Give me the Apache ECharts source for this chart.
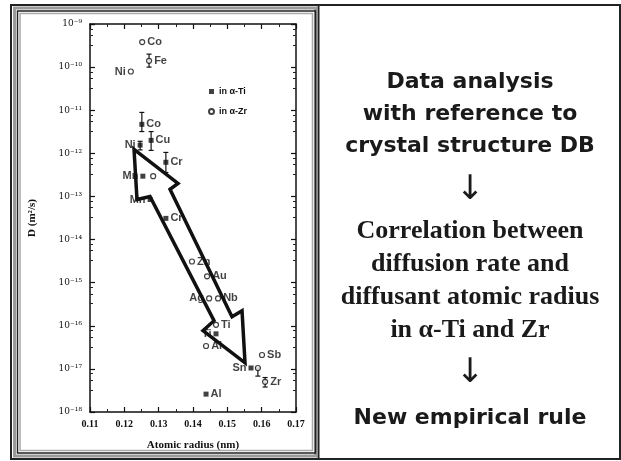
<!DOCTYPE html>
<html><head><meta charset="utf-8">
<script src="https://cdn.jsdelivr.net/npm/echarts@6/dist/echarts.min.js"></script>
<style>html,body{margin:0;padding:0;background:#fff}#c{width:621px;height:461px}</style>
</head><body><div id="c"></div>
<script>
// ---- data ----
// diffusion in alpha-Zr (open circles)
const zrNames = ['Co','Fe','Ni','','Zn','Au','Ag','Nb','Ti','Al','Sb','','Zr'];
const zrRadius = [0.1252,0.1272,0.1219,0.1284,0.1397,0.1441,0.1447,0.1473,0.1467,0.1438,0.1601,0.1589,0.1610];
const zrD = [3.8e-10,1.4e-10,7.9e-11,2.95e-13,3.1e-15,1.4e-15,4.3e-16,4.3e-16,1.05e-16,3.4e-17,2.1e-17,1.05e-17,5.0e-18];
// diffusion in alpha-Ti (filled squares)
const tiNames = ['Co','Cu','Ni','Cr','Mn','Mn','Cr','Ti','Sn','Al'];
const tiRadius = [0.1251,0.1278,0.1246,0.1321,0.1254,0.1275,0.1321,0.1467,0.1569,0.1438];
const tiD = [4.7e-12,2.0e-12,1.55e-12,6.2e-13,2.95e-13,8.5e-14,3.1e-14,6.5e-17,1.05e-17,2.6e-18];
// error bars [radius, low D, high D]
const errRadius = [0.1272,0.1251,0.1278,0.1321,0.1246,0.1589,0.1610];
const errLow = [1.0e-10,3.2e-12,1.17e-12,3.6e-13,1.2e-12,6.8e-18,3.8e-18];
const errHigh = [2.0e-10,8.9e-12,3.2e-12,1.05e-12,1.9e-12,1.05e-17,6.3e-18];
// annotation double arrow vertices (data units)
const arrowRadius = [0.12282,0.13563,0.1333,0.15136,0.15428,0.15515,0.14292,0.14612,0.12748,0.12369];
const arrowD = [1.24e-12,2.0e-13,1.46e-13,1.62e-16,2.23e-16,1.38e-17,7.7e-17,1.31e-16,1.0e-13,8.5e-14];
const xTicks = ['0.11','0.12','0.13','0.14','0.15','0.16','0.17'];
// label sides
const zrLeft = [false,false,true,false,false,false,true,false,false,false,false,false,false];
const tiLeft = [false,false,true,false,true,true,false,true,true,false];

const sup = {'-':'⁻','0':'⁰','1':'¹','2':'²','3':'³','4':'⁴','5':'⁵','6':'⁶','7':'⁷','8':'⁸','9':'⁹'};
function expLabel(v){const e=Math.round(Math.log10(v));return '10'+String(e).split('').map(c=>sup[c]).join('');}

const lblFont = {fontFamily:'Liberation Sans',fontWeight:'bold',fontSize:11,color:'#111'};
function pts(xs,ys,names,left){return xs.map((x,i)=>({value:[x,ys[i]],name:names[i],
  label:{show:!!names[i],position:left[i]?'left':'right',distance:2,formatter:names[i],...lblFont}}));}

const chart = echarts.init(document.getElementById('c'),null,{renderer:'canvas'});
const axisBase = {axisLine:{show:true,onZero:false,lineStyle:{color:'#111',width:1.5}},
  axisTick:{show:true,inside:true,length:5,lineStyle:{color:'#111',width:1.2}},
  minorTick:{show:true,splitNumber:4,length:3,lineStyle:{color:'#222'}},splitLine:{show:false}};
const option = {
  backgroundColor:'#fff', animation:false,
  grid:{left:90,top:24,width:206,height:388},
  legend:{orient:'vertical',left:203,top:82,itemWidth:5,itemHeight:5,itemGap:11,
    textStyle:{fontFamily:'Liberation Sans',fontWeight:'bold',fontSize:9,color:'#111'},
    data:['in α-Ti','in α-Zr']},
  xAxis:[{type:'value',min:0.11,max:0.17,interval:0.01,position:'bottom',...axisBase,
      minorTick:{show:true,splitNumber:2,length:3,lineStyle:{color:'#222'}},
      axisLabel:{margin:7,fontFamily:'Liberation Serif',fontWeight:'bold',fontSize:10,color:'#111',
        formatter:v=>xTicks[Math.round((v-0.11)/0.01)]},
      name:'Atomic radius (nm)',nameLocation:'middle',nameGap:28,
      nameTextStyle:{fontFamily:'Liberation Serif',fontWeight:'bold',fontSize:11,color:'#111'}},
    {type:'value',min:0.11,max:0.17,interval:0.01,position:'top',...axisBase,
      minorTick:{show:true,splitNumber:2,length:3,lineStyle:{color:'#222'}},axisLabel:{show:false}}],
  yAxis:[{type:'log',min:1e-18,max:1e-9,logBase:10,position:'left',...axisBase,
      axisLabel:{margin:8,fontFamily:'DejaVu Serif',fontSize:9,color:'#111',formatter:expLabel},
      name:'D (m²/s)',nameLocation:'middle',nameGap:52,nameRotate:90,
      nameTextStyle:{fontFamily:'Liberation Serif',fontWeight:'bold',fontSize:11,color:'#111'}},
    {type:'log',min:1e-18,max:1e-9,logBase:10,position:'right',...axisBase,axisLabel:{show:false}}],
  series:[
    {type:'custom',name:'err',z:3,silent:true,data:errRadius.map((x,i)=>[x,errLow[i],errHigh[i]]),
      renderItem:(p,api)=>{const a=api.coord([api.value(0),api.value(1)]),b=api.coord([api.value(0),api.value(2)]);
        const s={stroke:'#111',lineWidth:1.2};
        return {type:'group',children:[
          {type:'line',shape:{x1:a[0],y1:a[1],x2:b[0],y2:b[1]},style:s},
          {type:'line',shape:{x1:a[0]-2.5,y1:a[1],x2:a[0]+2.5,y2:a[1]},style:s},
          {type:'line',shape:{x1:b[0]-2.5,y1:b[1],x2:b[0]+2.5,y2:b[1]},style:s}]};}},
    {type:'scatter',name:'in α-Ti',symbol:'rect',symbolSize:5,z:4,itemStyle:{color:'#111'},
      data:pts(tiRadius,tiD,tiNames,tiLeft)},
    {type:'scatter',name:'in α-Zr',symbol:'circle',symbolSize:5,z:4,
      itemStyle:{color:'#fff',borderColor:'#111',borderWidth:1.2},data:pts(zrRadius,zrD,zrNames,zrLeft)},
    {type:'custom',name:'arrow',z:5,silent:true,data:[[0]],
      renderItem:(p,api)=>({type:'polygon',shape:{points:arrowRadius.map((x,i)=>api.coord([x,arrowD[i]]))},
        style:{fill:'rgba(0,0,0,0)',stroke:'#111',lineWidth:3.5,lineJoin:'miter'}})}
  ],
  graphic:[
    {type:'rect',shape:{x:11,y:5,width:609,height:454},style:{fill:null,stroke:'#222',lineWidth:2}},
    {type:'line',shape:{x1:318.5,y1:5,x2:318.5,y2:459},style:{stroke:'#222',lineWidth:2}},
    {type:'rect',shape:{x:14.5,y:8,width:301,height:448},style:{fill:null,stroke:'#9a9a9a',lineWidth:3}},
    {type:'rect',shape:{x:17.5,y:11,width:298,height:442},style:{fill:null,stroke:'#222',lineWidth:1.5}},
    {type:'rect',shape:{x:20,y:13.5,width:292.5,height:437},style:{fill:null,stroke:'#aaa',lineWidth:1.5}}
  ]
};
// right panel text
const sansT = ['Data analysis','with reference to','crystal structure DB'];
const serifT = ['Correlation between','diffusion rate and','diffusant atomic radius','in α-Ti and Zr'];
const cx = 470;
sansT.forEach((t,i)=>option.graphic.push({type:'text',x:cx,y:82+i*32,style:{text:t,fontFamily:'DejaVu Sans',fontWeight:'bold',fontSize:22,fill:'#1a1a1a',align:'center',verticalAlign:'middle'}}));
serifT.forEach((t,i)=>option.graphic.push({type:'text',x:cx,y:231+i*33,style:{text:t,fontFamily:'Liberation Serif',fontWeight:'bold',fontSize:26,fill:'#1a1a1a',align:'center',verticalAlign:'middle'}}));
[190,373].forEach(y=>option.graphic.push({type:'text',x:cx,y:y,style:{text:'↓',fontFamily:'DejaVu Sans',fontSize:34,fill:'#1a1a1a',align:'center',verticalAlign:'middle'}}));
option.graphic.push({type:'text',x:cx,y:418,style:{text:'New empirical rule',fontFamily:'DejaVu Sans',fontWeight:'bold',fontSize:22,fill:'#1a1a1a',align:'center',verticalAlign:'middle'}});
chart.setOption(option);
</script></body></html>
